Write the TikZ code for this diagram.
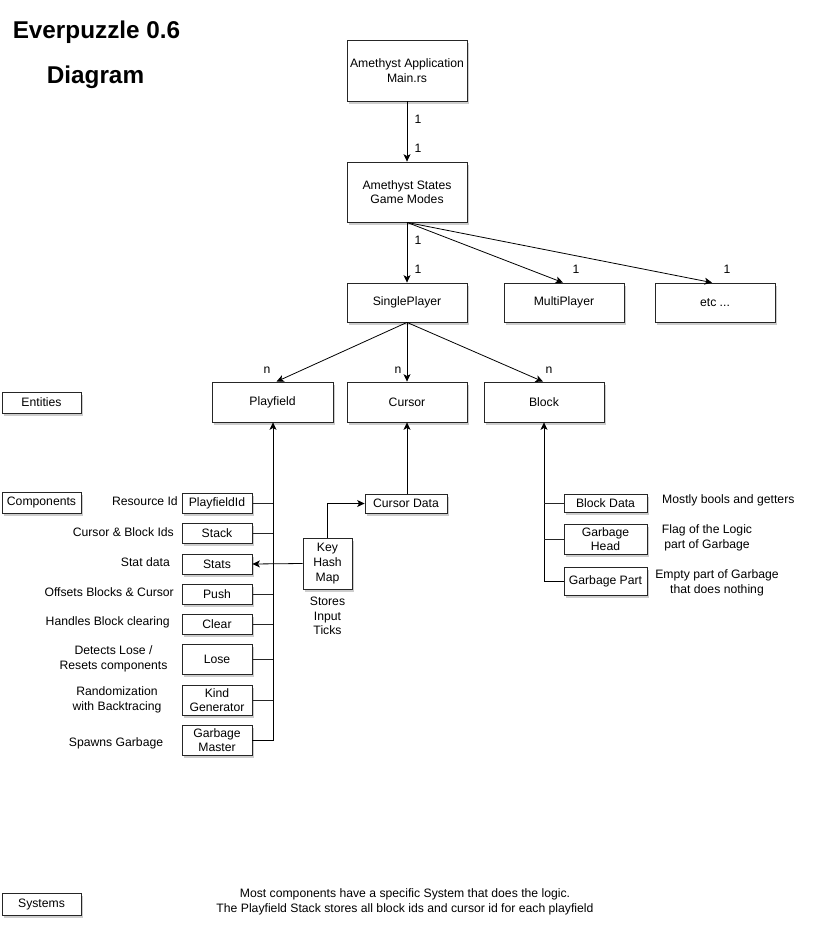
\documentclass[tikz,border=0pt]{standalone}
\usepackage{fontspec}
\setmainfont{Liberation Sans}
\usetikzlibrary{arrows.meta,shadows}
\newcommand\myfs{\fontsize{12.2}{14.6}\selectfont}
\newcommand\mytitlefs{\fontsize{24.3}{28}\selectfont\bfseries}
\begin{document}
\begin{tikzpicture}[x=1pt,y=-1pt,
  box/.style={draw=black!85, fill=white, line width=0.8pt, inner sep=0pt, align=center, font=\myfs,
    drop shadow={shadow xshift=2pt, shadow yshift=-2.5pt, opacity=0.28, fill=black!70}},
  lbl/.style={inner sep=0pt, font=\myfs, align=center},
  arr/.style={line width=0.8pt, -{Stealth[length=7.5pt,width=7pt,inset=2pt]}},
  ln/.style={line width=0.8pt, draw=black!85},
  ttl/.style={inner sep=0pt, font=\mytitlefs}]
\useasboundingbox (0,0) rectangle (817,937);

% title
\node[ttl] (t1) at (96.5,32) {Everpuzzle 0.6};
\node[ttl] (t2) at (95.5,77) {Diagram};

% main boxes
\node[box, minimum width=120, minimum height=61] (app) at (407,70.5) {Amethyst Application\\Main.rs};
\node[box, minimum width=120, minimum height=60] (states) at (407,192) {Amethyst States\\Game Modes};
\node[box, minimum width=120, minimum height=39] (single) at (407,302.5) {SinglePlayer};
\node[box, minimum width=120, minimum height=39] (multi) at (564,302.5) {MultiPlayer};
\node[box, minimum width=120, minimum height=39] (etc) at (715,302.5) {etc ...};
\node[box, minimum width=121, minimum height=40] (playfield) at (272.5,402) {Playfield};
\node[box, minimum width=120, minimum height=40] (cursor) at (407,402) {Cursor};
\node[box, minimum width=120, minimum height=40] (block) at (544,402) {Block};

% legend boxes
\node[box, minimum width=79, minimum height=21] (entities) at (41.5,402.5) {Entities};
\node[box, minimum width=79, minimum height=21] (components) at (41.5,502.5) {Components};
\node[box, minimum width=79, minimum height=22] (systems) at (41.5,904) {Systems};

% playfield components
\node[box, minimum width=70, minimum height=20] (pid) at (217,503) {PlayfieldId};
\node[box, minimum width=70, minimum height=20] (stack) at (217,533) {Stack};
\node[box, minimum width=70, minimum height=20] (stats) at (217,564) {Stats};
\node[box, minimum width=70, minimum height=20] (push) at (217,594) {Push};
\node[box, minimum width=70, minimum height=20] (clear) at (217,624) {Clear};
\node[box, minimum width=70, minimum height=30] (lose) at (217,659) {Lose};
\node[box, minimum width=70, minimum height=30] (kind) at (217,700) {Kind\\Generator};
\node[box, minimum width=70, minimum height=30] (gm) at (217,740) {Garbage\\Master};

% key hash map and cursor data
\node[box, minimum width=49, minimum height=51] (khm) at (327.5,563.5) {Key\\Hash\\Map};
\node[lbl] (khmtxt) at (327.5,616) {Stores\\Input\\Ticks};
\node[box, minimum width=82, minimum height=19] (cdata) at (406,503.5) {Cursor Data};

% block components
\node[box, minimum width=83, minimum height=18] (bdata) at (605.5,503) {Block Data};
\node[box, minimum width=83, minimum height=30] (ghead) at (605.5,539) {Garbage\\Head};
\node[box, minimum width=83, minimum height=28] (gpart) at (605.5,581) {Garbage Part};

% connectors
\draw[arr] (app.south) -- (states.north);
\node[lbl] (l1) at (418,119) {1};
\node[lbl] (l2) at (418,148) {1};
\draw[arr] (states.south) -- (single.north);
\draw[arr] (states.south) -- ([xshift=-1]multi.north);
\draw[arr] (states.south) -- ([xshift=-3]etc.north);
\node[lbl] (l3) at (418,240) {1};
\node[lbl] (l4) at (418,269) {1};
\node[lbl] (l5) at (576,269) {1};
\node[lbl] (l6) at (727,269) {1};

\draw[arr] (single.south) -- ([xshift=4]playfield.north);
\draw[arr] (single.south) -- (cursor.north);
\draw[arr] (single.south) -- ([xshift=-1]block.north);
\node[lbl] (n1) at (267,370) {n};
\node[lbl] (n2) at (398,370) {n};
\node[lbl] (n3) at (549,370) {n};

% playfield bus
\coordinate (pb) at ([xshift=0.5]playfield.south);
\draw[arr] (gm.east) -| (pb);
\foreach \n in {pid,stack,push,clear,lose,kind} {
  \draw[ln] (\n.east) -- (\n.east -| pb);
}
\draw[arr] (khm.west) -- (stats.east);
\draw[arr] (khm.north) |- (cdata.west);
\draw[arr] (cursor.south |- cdata.north) -- (cursor.south);

% block bus
\draw[arr] (gpart.west) -| (block.south);
\draw[ln] (bdata.west) -- (bdata.west -| block.south);
\draw[ln] (ghead.west) -- (ghead.west -| block.south);

% descriptions (playfield components)
\node[lbl, anchor=east] (d1) at (178,501) {Resource Id};
\node[lbl, anchor=east] (d2) at (174,532) {Cursor \& Block Ids};
\node[lbl, anchor=east] (d3) at (170,562) {Stat data};
\node[lbl, anchor=east] (d4) at (174,592) {Offsets Blocks \& Cursor};
\node[lbl, anchor=east] (d5) at (170,622) {Handles Block clearing};
\node[lbl] (d6) at (113.5,659) {Detects Lose /\\Resets components};
\node[lbl] (d7) at (117,700) {Randomization\\with Backtracing};
\node[lbl] (d8) at (116,743) {Spawns Garbage};

% descriptions (block components)
\node[lbl, anchor=west] (b1) at (662,500) {Mostly bools and getters};
\node[lbl] (b2) at (707,538) {Flag of the Logic\\part of Garbage};
\node[lbl] (b3) at (717,583) {Empty part of Garbage\\that does nothing};

% bottom note
\node[lbl] (note) at (405,902) {Most components have a specific System that does the logic.\\The Playfield Stack stores all block ids and cursor id for each playfield};
\end{tikzpicture}
\end{document}
